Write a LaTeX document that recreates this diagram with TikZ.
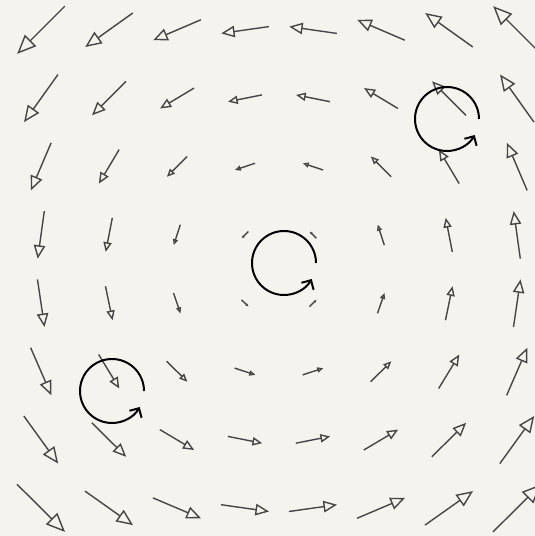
\documentclass[tikz,border=0pt]{standalone}
\usetikzlibrary{arrows.meta}

\definecolor{paper}{RGB}{244,243,237}
\definecolor{vecgray}{RGB}{70,70,70}

\begin{document}
\begin{tikzpicture}[
    x=0.5pt, y=-0.5pt,
    vec/.style={draw=vecgray, line width=0.7pt},
    curlarc/.style={
      draw=black, line width=1pt,
      -{Straight Barb[length=3.5pt, width=7pt]}},
]

% ---- paper, fixes the frame ----
\fill[paper] (0,0) rectangle (535,536);
\clip (0,0) rectangle (535,536);

% ---- rotating field on an 8x8 grid ----
\foreach \i in {0,...,7}{
  \foreach \j in {0,...,7}{
    \pgfmathsetmacro{\px}{41+68*\i}
    \pgfmathsetmacro{\py}{30+68.3*\j}
    \pgfmathsetmacro{\vx}{0.1*(\py-268)}
    \pgfmathsetmacro{\vy}{-0.1*(\px-279)}
    \pgfmathsetmacro{\hl}{max(1.5,0.028*veclen(\px-279,\py-268))}
    \pgfmathsetmacro{\hw}{0.85*\hl}
    \draw[vec, -{Triangle[open, length=\hl pt, width=\hw pt]}]
      (\px-\vx,\py-\vy) -- (\px+\vx,\py+\vy);
  }
}

% ---- curl markers ----
\coordinate (curlA) at (112,391);
\coordinate (curlB) at (284,263);
\coordinate (curlC) at (447,119);

\foreach \c in {curlA, curlB, curlC}
  \draw[curlarc] ([xshift=16pt]\c) arc[start angle=0, end angle=330, radius=16pt];

\end{tikzpicture}
\end{document}
